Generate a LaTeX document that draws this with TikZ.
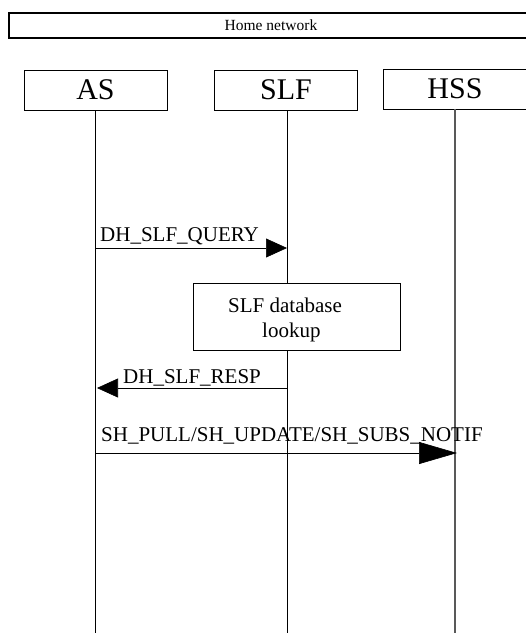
\documentclass[tikz,border=0pt]{standalone}
\usepackage{fontspec}
\setmainfont{Liberation Serif}
\usetikzlibrary{arrows.meta}
\begin{document}
\begin{tikzpicture}[x=1pt,y=-1pt,
  entity/.style={draw,line width=0.8pt,minimum width=143pt,minimum height=40pt,inner sep=0pt,font=\fontsize{30}{32}\selectfont},
  lifeline/.style={line width=0.8pt},
  msg/.style={line width=0.6pt},
  lbl/.style={anchor=base west,inner sep=0pt,font=\fontsize{21}{23}\selectfont},
  bighead/.style={-{Triangle[length=21pt,width=19pt]}},
]
\useasboundingbox (0,0) rectangle (526,633);
% home network banner
\node[draw,line width=1.5pt,anchor=north west,minimum width=530pt,minimum height=25pt,inner sep=0pt] (home) at (8,12) {};
\node[font=\fontsize{15.5}{17}\selectfont,inner sep=0pt] (homelbl) at (271,25) {Home network};
% entities
\node[entity] (as) at (95.5,90) {AS};
\node[entity] (slf) at (286,90) {SLF};
\node[entity] (hss) at (455,89) {HSS};
% lifelines
\coordinate (asend) at (95,633);
\coordinate (slfend) at (287,633);
\coordinate (hssend) at (455,633);
\draw[lifeline] (95,110) coordinate (astop) -- (asend);
\draw[lifeline] (287,110) coordinate (slftop) -- (slfend);
\draw[lifeline,gray!70!black,line width=1.4pt] (455,109) coordinate (hsstop) -- (hssend);
% message 1
\coordinate (m1s) at (95,248);
\coordinate (m1e) at (287,248);
\draw[msg,bighead] (m1s) -- (m1e);
\node[lbl] (m1l) at (100,241) {DH\_SLF\_QUERY};
% lookup box
\node[draw,fill=white,line width=1pt,anchor=north west,minimum width=207pt,minimum height=67pt,inner sep=0pt] (lookup) at (193,283) {};
\node[lbl] (lk1) at (228,312) {SLF database};
\node[lbl] (lk2) at (262,337) {lookup};
% message 2
\coordinate (m2s) at (287,388);
\coordinate (m2e) at (97,388);
\draw[msg,bighead] (m2s) -- (m2e);
\node[lbl] (m2l) at (123,383) {DH\_SLF\_RESP};
% message 3
\coordinate (m3s) at (95,453);
\coordinate (m3e) at (457,453);
\draw[msg,-{Triangle[length=38pt,width=22pt]}] (m3s) -- (m3e);
\node[lbl] (m3l) at (101,441) {SH\_PULL/SH\_UPDATE/SH\_SUBS\_NOTIF};
\end{tikzpicture}
\end{document}
